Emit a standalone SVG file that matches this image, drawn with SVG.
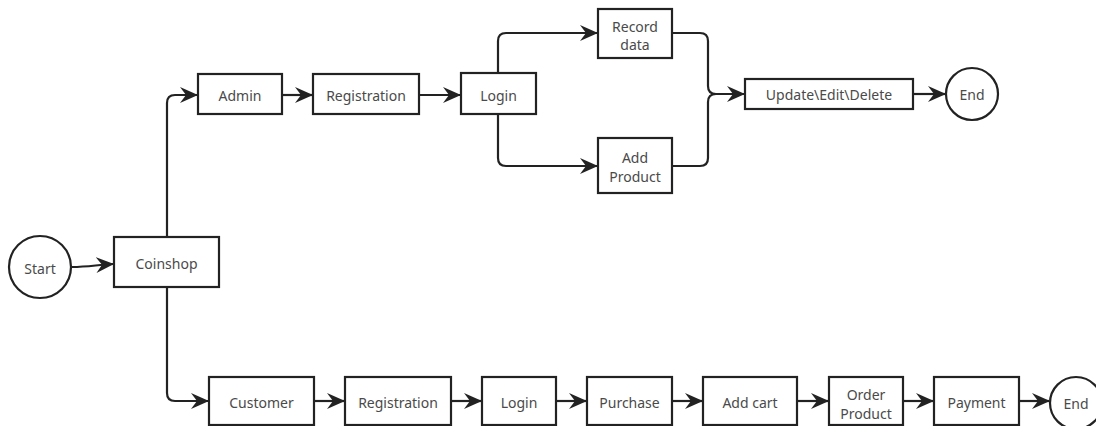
<svg xmlns="http://www.w3.org/2000/svg" width="1096" height="426" viewBox="0 0 1096 426">
<style>
.box{fill:#fff;stroke:#222;stroke-width:2.2}
.t{font-family:"Noto Sans","Open Sans",sans-serif;font-size:14px;fill:#4a4a4a;text-anchor:middle;dominant-baseline:central}
.c{fill:none;stroke:#222;stroke-width:2.2}
</style>
<defs>
<marker id="ah" markerUnits="userSpaceOnUse" markerWidth="20" markerHeight="18" refX="17" refY="8" orient="auto">
<path d="M0,0 L18,8 L0,16 L6,8 z" fill="#222"/>
</marker>
</defs>
<rect width="1096" height="426" fill="#fff"/>
<g id="connectors">
<path class="c" d="M72,267 C88,267 96,265 113,264" marker-end="url(#ah)"/>
<path class="c" d="M167,237 V103 Q167,95 175,95 H197" marker-end="url(#ah)"/>
<path class="c" d="M167,287 V393 Q167,401 175,401 H208" marker-end="url(#ah)"/>
<path class="c" d="M282,95 H312" marker-end="url(#ah)"/>
<path class="c" d="M419,95 H460" marker-end="url(#ah)"/>
<path class="c" d="M498,73 V41 Q498,33 506,33 H597" marker-end="url(#ah)"/>
<path class="c" d="M498,114 V158 Q498,166 506,166 H597" marker-end="url(#ah)"/>
<path class="c" d="M672,33 H700 Q708,33 708,41 V86 Q708,94 716,94 H744" marker-end="url(#ah)"/>
<path class="c" d="M672,166 H700 Q708,166 708,158 V102 Q708,94 716,94"/>
<path class="c" d="M913,94 H945" marker-end="url(#ah)"/>
<path class="c" d="M314,401 H344" marker-end="url(#ah)"/>
<path class="c" d="M451,401 H481" marker-end="url(#ah)"/>
<path class="c" d="M556,401 H586" marker-end="url(#ah)"/>
<path class="c" d="M672,401 H702" marker-end="url(#ah)"/>
<path class="c" d="M797,401 H828" marker-end="url(#ah)"/>
<path class="c" d="M903,401 H933" marker-end="url(#ah)"/>
<path class="c" d="M1019,401 H1049" marker-end="url(#ah)"/>
</g>
<g id="start"><circle class="box" cx="40" cy="267" r="31"/><text class="t" x="40" y="268">Start</text></g>
<g id="coinshop"><rect class="box" x="114" y="237" width="105" height="50"/><text class="t" x="166.5" y="263">Coinshop</text></g>
<g id="admin"><rect class="box" x="198" y="74" width="84" height="40"/><text class="t" x="240" y="95">Admin</text></g>
<g id="reg1"><rect class="box" x="313" y="74" width="106" height="40"/><text class="t" x="366" y="95">Registration</text></g>
<g id="login1"><rect class="box" x="461" y="73" width="75" height="41"/><text class="t" x="498.5" y="95">Login</text></g>
<g id="record"><rect class="box" x="598" y="9" width="74" height="49"/><text class="t" x="635" y="26">Record</text><text class="t" x="635" y="44">data</text></g>
<g id="addproduct"><rect class="box" x="598" y="138" width="74" height="55"/><text class="t" x="635" y="157">Add</text><text class="t" x="635" y="176">Product</text></g>
<g id="update"><rect class="box" x="745" y="79" width="168" height="30"/><text class="t" x="829" y="94">Update\Edit\Delete</text></g>
<g id="end1"><circle class="box" cx="972" cy="94" r="26"/><text class="t" x="972" y="94">End</text></g>
<g id="customer"><rect class="box" x="209" y="377" width="105" height="48"/><text class="t" x="261.5" y="402">Customer</text></g>
<g id="reg2"><rect class="box" x="345" y="377" width="106" height="48"/><text class="t" x="398" y="402">Registration</text></g>
<g id="login2"><rect class="box" x="482" y="377" width="74" height="48"/><text class="t" x="519" y="402">Login</text></g>
<g id="purchase"><rect class="box" x="587" y="377" width="85" height="48"/><text class="t" x="629.5" y="402">Purchase</text></g>
<g id="addcart"><rect class="box" x="703" y="377" width="94" height="48"/><text class="t" x="750" y="402">Add cart</text></g>
<g id="order"><rect class="box" x="829" y="377" width="74" height="48"/><text class="t" x="866" y="394">Order</text><text class="t" x="866" y="413">Product</text></g>
<g id="payment"><rect class="box" x="934" y="377" width="85" height="48"/><text class="t" x="976.5" y="402">Payment</text></g>
<g id="end2"><circle class="box" cx="1076" cy="403" r="26"/><text class="t" x="1076" y="403">End</text></g>
</svg>
